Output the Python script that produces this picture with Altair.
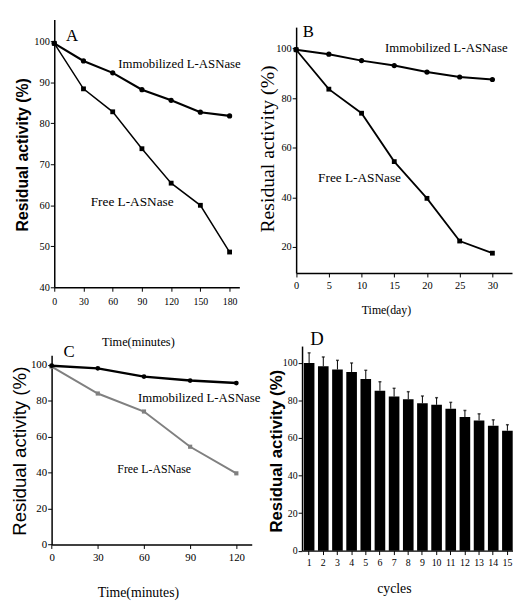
import altair as alt
import pandas as pd

# ---------------- data ----------------
# Panel A (time in minutes)
a_time = [0, 30, 60, 90, 120, 150, 180]
a_immobilized = [99.5, 95.2, 92.3, 88.2, 85.6, 82.7, 81.8]
a_free = [99.5, 88.4, 82.8, 73.8, 65.4, 60.0, 48.6]

# Panel B (time in days)
b_day = [0, 5, 10, 15, 20, 25, 30]
b_immobilized = [99.5, 97.7, 95.1, 93.1, 90.5, 88.5, 87.5]
b_free = [99.5, 83.6, 73.9, 54.4, 39.6, 22.4, 17.5]

# Panel C (time in minutes)
c_time = [0, 30, 60, 90, 120]
c_immobilized = [99.5, 98.0, 93.4, 91.2, 89.8]
c_free = [99.0, 84.0, 74.0, 54.4, 39.6]

# Panel D (reuse cycles)
d_cycle = [str(i) for i in range(1, 16)]
d_activity = [100, 98.2, 96.5, 95.2, 91.4, 85.2, 82.1, 80.7, 78.5, 77.7, 75.6, 71.2, 69.4, 66.6, 63.9]
d_error = [5.4, 5.0, 4.9, 4.8, 4.7, 4.8, 4.4, 4.0, 3.9, 3.8, 3.4, 3.5, 3.5, 3.1, 3.2]

# tick values
a_xticks = [0, 30, 60, 90, 120, 150, 180]
a_yticks = [40, 50, 60, 70, 80, 90, 100]
b_xticks = [0, 5, 10, 15, 20, 25, 30]
b_yticks = [20, 40, 60, 80, 100]
c_xticks = [0, 30, 60, 90, 120]
c_yticks = [0, 20, 40, 60, 80, 100]
d_yticks = [0, 20, 40, 60, 80, 100]

# texts
panel_letters = ["A", "B", "C", "D"]
imm_name = "Immobilized L-ASNase"
free_name = "Free L-ASNase"
y_title = "Residual activity (%)"
a_xtitle = "Time(minutes)"
b_xtitle = "Time(day)"
c_xtitle = "Time(minutes)"
d_xtitle = "cycles"

# ---------------- layout ----------------
W, H = 513, 597
SERIF = "Liberation Serif"
SANS = "Liberation Sans"


def y_axis(values, left, title, tfont, tsize, tweight, tx, ty, lsize):
    return alt.Axis(
        orient="left", offset=-left, values=values, title=title,
        titleFont=tfont, titleFontSize=tsize, titleFontWeight=tweight, titleColor="black",
        titleX=tx - left, titleY=ty, titleAngle=270, titleAlign="center", titleBaseline="middle",
        labelFont=SERIF, labelFontSize=lsize, labelColor="black", labelPadding=1,
        domainColor="black", domainWidth=1.5, tickColor="black", tickSize=4, tickWidth=1,
        grid=False,
    )


def x_axis(values, bottom, title, tsize, tx, ty, lsize, lpad):
    kw = dict(
        orient="bottom", offset=bottom - H, title=title,
        titleFont=SERIF, titleFontSize=tsize, titleFontWeight="normal", titleColor="black",
        titleX=tx, titleY=ty - bottom, titleAngle=0, titleAlign="center", titleBaseline="middle",
        labelFont=SERIF, labelFontSize=lsize, labelColor="black", labelPadding=lpad,
        labelAngle=0, labelFlush=False,
        domainColor="black", domainWidth=1.5, tickColor="black", tickSize=4, tickWidth=1,
        grid=False,
    )
    if values is not None:
        kw["values"] = values
    return alt.Axis(**kw)


def line_panel(xs, imm, free, xsc, ysc, xax, yax, free_color, imm_w, free_w,
               letter, letter_pos, letter_size, imm_pos, imm_size, free_pos, free_size,
               pt_imm, pt_free):
    X = alt.X("x:Q", scale=xsc, axis=xax)
    Y = alt.Y("y:Q", scale=ysc, axis=yax)
    df_imm = pd.DataFrame({"x": xs, "y": imm})
    df_free = pd.DataFrame({"x": xs, "y": free})
    layers = [
        alt.Chart(df_free).mark_line(color=free_color, strokeWidth=free_w).encode(x=X, y=Y),
        alt.Chart(df_free).mark_point(shape="square", filled=True, color=free_color, size=pt_free, opacity=1).encode(x=X, y=Y),
        alt.Chart(df_imm).mark_line(color="black", strokeWidth=imm_w).encode(x=X, y=Y),
        alt.Chart(df_imm).mark_point(shape="circle", filled=True, color="black", size=pt_imm, opacity=1).encode(x=X, y=Y),
        alt.Chart(pd.DataFrame({"x": [letter_pos[0]], "y": [letter_pos[1]], "t": [letter]}))
        .mark_text(font=SERIF, fontSize=letter_size, color="black", align="center", baseline="middle")
        .encode(x=X, y=Y, text="t:N"),
        alt.Chart(pd.DataFrame({"x": [imm_pos[0]], "y": [imm_pos[1]], "t": [imm_name]}))
        .mark_text(font=SERIF, fontSize=imm_size, color="black", align="left", baseline="middle")
        .encode(x=X, y=Y, text="t:N"),
        alt.Chart(pd.DataFrame({"x": [free_pos[0]], "y": [free_pos[1]], "t": [free_name]}))
        .mark_text(font=SERIF, fontSize=free_size, color="black", align="left", baseline="middle")
        .encode(x=X, y=Y, text="t:N"),
    ]
    return alt.layer(*layers)


# Panel A
panel_a = line_panel(
    a_time, a_immobilized, a_free,
    alt.Scale(domain=[0, 190], range=[47, 235], nice=False, zero=False),
    alt.Scale(domain=[40, 105.3], range=[279, 7], nice=False, zero=False),
    x_axis(a_xticks, 279, a_xtitle, 12.5, 132, 334, 10, 5),
    y_axis(a_yticks, 47, y_title, SANS, 16, "bold", 15, 144, 10.5),
    "black", 2.2, 1.5,
    panel_letters[0], (18.2, 101.2), 17, (65.7, 94.5), 13, (37.4, 60.9), 13.5,
    28, 24,
)

# Panel B
panel_b = line_panel(
    b_day, b_immobilized, b_free,
    alt.Scale(domain=[0, 33], range=[292.7, 512], nice=False, zero=False),
    alt.Scale(domain=[9.5, 108.6], range=[264.5, 14.7], nice=False, zero=False),
    x_axis(b_xticks, 264.5, b_xtitle, 12, 384, 302, 10.5, 4),
    y_axis(b_yticks, 292.7, y_title, SERIF, 20, "normal", 264, 138, 10.5),
    "black", 2.0, 1.8,
    panel_letters[1], (1.85, 106.5), 17, (13.6, 100.1), 13, (3.36, 47.8), 13.5,
    28, 24,
)

# Panel C
panel_c = line_panel(
    c_time, c_immobilized, c_free,
    alt.Scale(domain=[0, 130], range=[44.3, 247.6], nice=False, zero=False),
    alt.Scale(domain=[0, 105.3], range=[540.3, 348], nice=False, zero=False),
    x_axis(c_xticks, 540.3, c_xtitle, 14, 132, 589, 11, 3),
    y_axis(c_yticks, 44.3, y_title, SANS, 19, "normal", 11.5, 445, 11),
    "#808080", 2.5, 2.0,
    panel_letters[2], (11.3, 107.0), 17, (56.1, 81.2), 13, (42.7, 41.8), 12,
    24, 18,
)

# Panel D
d_df = pd.DataFrame({
    "cycle": d_cycle,
    "act": d_activity,
    "hi": [a + e for a, e in zip(d_activity, d_error)],
})
d_yscale = alt.Scale(domain=[0, 109], range=[546.5, 338.7], nice=False, zero=False)
d_yaxis = y_axis(d_yticks, 298.7, y_title, SANS, 17, "bold", 273, 445, 10)
DX = alt.X(
    "cycle:O", sort=d_cycle,
    scale=alt.Scale(range=[298.7, 514.5], paddingInner=0.25, paddingOuter=0.125),
    axis=x_axis(None, 546.5, d_xtitle, 14, 392, 585, 10, 3),
)
DY = alt.Y("act:Q", scale=d_yscale, axis=d_yaxis)
d_bars = alt.Chart(d_df).mark_bar(color="black").encode(x=DX, y=DY)
d_err = alt.Chart(d_df).mark_rule(color="black", strokeWidth=1).encode(x=DX, y=DY, y2="hi:Q")
d_cap = alt.Chart(d_df).mark_tick(color="black", size=3, thickness=1.5).encode(
    x=DX, y=alt.Y("hi:Q", scale=d_yscale, axis=d_yaxis))
d_letter = alt.Chart(pd.DataFrame({"cycle": ["1"], "act": [112.5], "t": [panel_letters[3]]})).mark_text(
    font=SERIF, fontSize=19, color="black", align="center", baseline="middle", dx=8
).encode(x=DX, y=DY, text="t:N")
panel_d = alt.layer(d_bars, d_err, d_cap, d_letter)

chart = alt.layer(panel_a, panel_b, panel_c, panel_d).resolve_scale(
    x="independent", y="independent"
).properties(
    width=W, height=H, padding=0, autosize=alt.AutoSizeParams(type="none")
).configure_view(stroke=None)

chart.save("out.html", embed_options={"renderer": "svg", "actions": False})
